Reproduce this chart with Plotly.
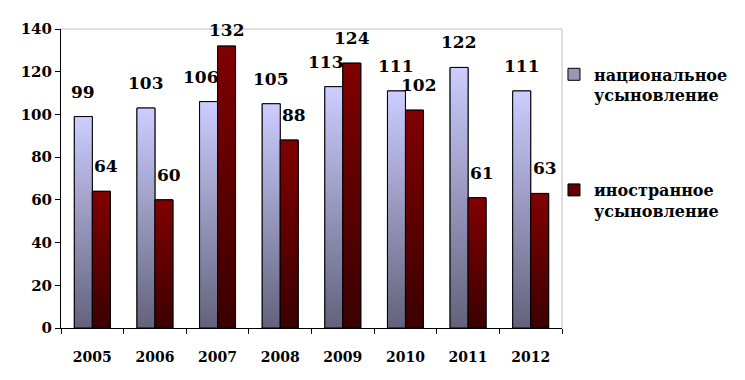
import plotly.graph_objects as go

# ---- data ----
years = ["2005", "2006", "2007", "2008", "2009", "2010", "2011", "2012"]
national = [99, 103, 106, 105, 113, 111, 122, 111]
foreign = [64, 60, 132, 88, 124, 102, 61, 63]
series_names = ["национальное<br>усыновление", "иностранное<br>усыновление"]
y_ticks = [0, 20, 40, 60, 80, 100, 120, 140]

# ---- style ----
FONT = "DejaVu Serif, serif"
BAR_W = 0.287
Y_MAX = 140
PLOT_H = 306          # plot-area height in px (372 - 14 - 52)
LABEL_H = 15          # approx. label box height in px
LABEL_GAP = 13        # px gap between bar top and label
styles = [
    dict(offset=-BAR_W, top="#CCCCFF", bottom="#5F5F78", mid="#9797B8", nudge=-8),
    dict(offset=0.0, top="#800000", bottom="#380000", mid="#600000", nudge=5),
]
all_values = [national, foreign]
xs = list(range(len(years)))

fig = go.Figure()

# bar traces (legend + geometry)
for k, (name, vals, st) in enumerate(zip(series_names, all_values, styles)):
    fig.add_trace(go.Bar(
        x=xs, y=vals, name=name, width=BAR_W, offset=st["offset"],
        marker=dict(color=st["mid"], line=dict(color="black", width=1)),
        legendgroup=f"g{k}", hoverinfo="skip",
    ))

# vertical gradient fill drawn over each bar
for k, (vals, st) in enumerate(zip(all_values, styles)):
    for i, v in zip(xs, vals):
        x0 = i + st["offset"]
        x1 = x0 + BAR_W
        fig.add_trace(go.Scatter(
            x=[x0, x1, x1, x0, x0], y=[0, 0, v, v, 0],
            mode="lines", fill="toself",
            line=dict(color="black", width=1),
            fillgradient=dict(type="vertical",
                              colorscale=[[0, st["bottom"]], [1, st["top"]]],
                              start=0, stop=v),
            showlegend=False, hoverinfo="skip", legendgroup=f"g{k}",
        ))

# value labels (kept inside the plot area and nudged away from the taller
# neighbouring bar, like the original)
for k, (vals, st) in enumerate(zip(all_values, styles)):
    other = all_values[1 - k]
    for i, v in enumerate(vals):
        room = (Y_MAX - v) * PLOT_H / Y_MAX
        shift = max(3, min(LABEL_GAP, room - LABEL_H + 2))
        xshift = st["nudge"] if other[i] > v else 0
        fig.add_annotation(
            x=i + st["offset"] + BAR_W / 2, y=v, xref="x", yref="y",
            text=str(v), showarrow=False, yanchor="bottom",
            yshift=shift, xshift=xshift,
            font=dict(family=FONT, size=17, color="black", weight="bold"),
        )

# plot-area border (top and right)
fig.add_shape(type="line", xref="paper", yref="paper", x0=0, x1=1, y0=1, y1=1,
              line=dict(color="#C0C0C0", width=1))
fig.add_shape(type="line", xref="paper", yref="paper", x0=1, x1=1, y0=0, y1=1,
              line=dict(color="#C0C0C0", width=1))

# page body has an 8px margin, so the figure is shifted by 8px
fig.update_layout(
    width=737, height=372,
    margin=dict(l=53, r=182, t=14, b=52),
    paper_bgcolor="white", plot_bgcolor="white",
    barmode="overlay",
    showlegend=True,
    legend=dict(
        x=0.984, xanchor="left", y=0.905, yanchor="top",
        font=dict(family=FONT, size=16, color="black", weight="bold"),
        tracegroupgap=71, valign="top", bgcolor="rgba(0,0,0,0)",
    ),
    xaxis=dict(
        range=[-0.5, len(years) - 0.5],
        tickvals=xs, ticktext=years, ticks="", ticklabelstandoff=16,
        showgrid=False, zeroline=False,
        showline=True, linecolor="black", linewidth=1,
        tickfont=dict(family=FONT, size=14, color="black", weight="bold"),
        minor=dict(tickvals=[i - 0.5 for i in range(len(years) + 1)],
                   ticks="outside", ticklen=5, tickcolor="black", showgrid=False),
    ),
    yaxis=dict(
        range=[0, Y_MAX], tickvals=y_ticks,
        ticks="outside", ticklen=5, tickcolor="black",
        showgrid=False, zeroline=False,
        showline=True, linecolor="black", linewidth=1,
        tickfont=dict(family=FONT, size=15, color="black", weight="bold"),
    ),
)

fig.write_html("out.html")
